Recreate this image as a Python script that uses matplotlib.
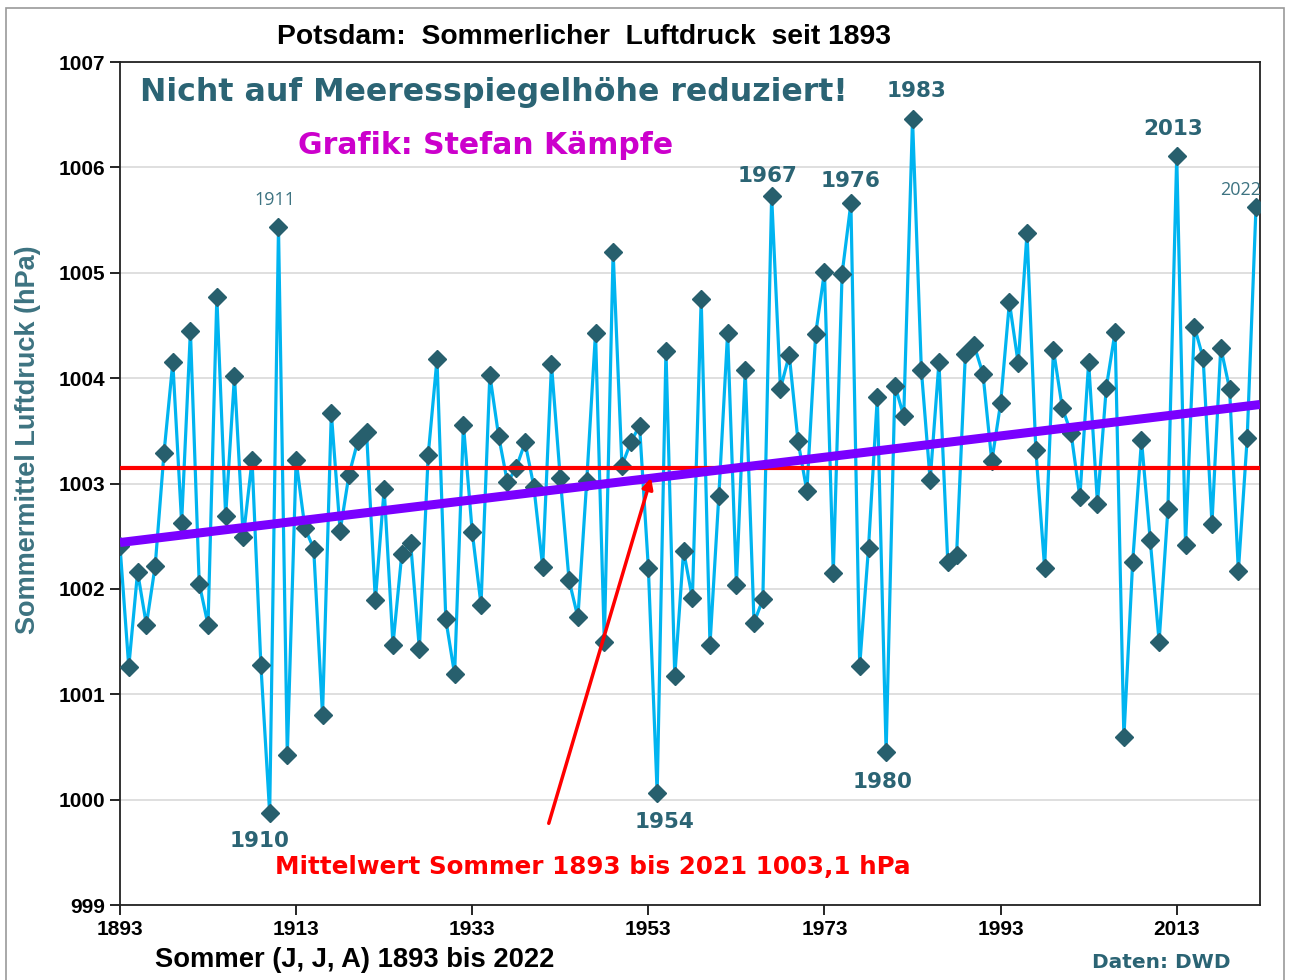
import numpy as np
import matplotlib.pyplot as plt
from matplotlib.patches import Rectangle

plt.rcParams['font.family'] = ['Liberation Sans', 'DejaVu Sans']

# Sommermittel Luftdruck Potsdam (hPa), 1893-2022
years = np.arange(1893, 2023)
pressure = [
    1002.41, 1001.26, 1002.16, 1001.66, 1002.22, 1003.29, 1004.15, 1002.63, 1004.45, 1002.05,
    1001.66, 1004.77, 1002.69, 1004.02, 1002.49, 1003.22, 1001.28, 999.87, 1005.43, 1000.42,
    1003.22, 1002.58, 1002.38, 1000.80, 1003.67, 1002.55, 1003.08, 1003.40, 1003.49, 1001.89,
    1002.95, 1001.47, 1002.33, 1002.44, 1001.43, 1003.27, 1004.18, 1001.71, 1001.19, 1003.56,
    1002.54, 1001.85, 1004.03, 1003.45, 1003.01, 1003.15, 1003.39, 1002.97, 1002.21, 1004.13,
    1003.05, 1002.08, 1001.73, 1003.02, 1004.43, 1001.50, 1005.20, 1003.17, 1003.39, 1003.55,
    1002.20, 1000.06, 1004.26, 1001.17, 1002.36, 1001.91, 1004.75, 1001.47, 1002.88, 1004.43,
    1002.04, 1004.08, 1001.68, 1001.90, 1005.73, 1003.90, 1004.22, 1003.40, 1002.93, 1004.42,
    1005.01, 1002.15, 1004.99, 1005.66, 1001.27, 1002.39, 1003.82, 1000.45, 1003.93, 1003.64,
    1006.46, 1004.08, 1003.03, 1004.15, 1002.26, 1002.32, 1004.23, 1004.31, 1004.04, 1003.21,
    1003.76, 1004.72, 1004.14, 1005.38, 1003.32, 1002.20, 1004.27, 1003.72, 1003.48, 1002.87,
    1004.15, 1002.81, 1003.91, 1004.44, 1000.59, 1002.26, 1003.41, 1002.46, 1001.50, 1002.76,
    1006.11, 1002.42, 1004.49, 1004.19, 1002.62, 1004.29, 1003.90, 1002.17, 1003.43, 1005.62,
]
pressure = np.array(pressure)

mean_value = 1003.15
# Trendlinie (Anfang und Ende)
trend_years = [1893, 2022.45]
trend_values = [1002.44, 1003.75]

# Beschriftete Jahre mit Versatz in Pixeln (dx, dy)
bold_labels = {1967: (-4, 20), 1976: (0, 22), 1983: (4, 28), 2013: (-4, 27),
               1910: (-10, -28), 1954: (7, -29), 1980: (-4, -30)}
small_labels = {1911: (-4, 27), 2022: (-15, 17)}

teal = '#2b6474'
heavy = ['DejaVu Sans']
fig = plt.figure(figsize=(12.9, 9.8), dpi=100)
ax = fig.add_axes([0.093, 0.0765, 0.8837, 0.8602])

ax.plot(years, pressure, color='#00b4f0', lw=2.3, zorder=3)
ax.plot(years, pressure, 'D', color='#275f6d', ms=9, zorder=4)
ax.axhline(mean_value, color='#ff0000', lw=3, zorder=5)
ax.plot(trend_years, trend_values, color='#7a00ff', lw=6.5, zorder=6, solid_capstyle='butt')

ax.set_xlim(1893, 2022.45)
ax.set_ylim(999, 1007)
ax.set_xticks(np.arange(1893, 2023, 20))
ax.set_yticks(np.arange(999, 1008, 1))
ax.tick_params(labelsize=15, length=7, width=1.2, direction='out')
for lab in ax.get_xticklabels() + ax.get_yticklabels():
    lab.set_fontweight('bold')
ax.yaxis.grid(True, color='#d9d9d9', lw=1.2)
ax.set_axisbelow(True)
for sp in ax.spines.values():
    sp.set_linewidth(1.3)
    sp.set_color('#222222')

ax.set_ylabel('Sommermittel Luftdruck (hPa)', fontsize=19.5, fontweight='bold', color='#3d7381')
ax.yaxis.set_label_coords(-0.069, 0.552)

vals = dict(zip(years, pressure))
for y, (dx, dy) in bold_labels.items():
    ax.annotate(str(y), (y, vals[y]), xytext=(dx, dy), textcoords='offset pixels',
                ha='center', va='center', fontsize=15.5, fontweight='bold', color=teal,
                family=heavy)
for y, (dx, dy) in small_labels.items():
    ax.annotate(str(y), (y, vals[y]), xytext=(dx, dy), textcoords='offset pixels',
                ha='center', va='center', fontsize=13, color='#3d7381',
                family=['Open Sans', 'DejaVu Sans'])

ax.annotate('', xy=(1953.4, 1003.08), xytext=(1941.6, 999.75),
            arrowprops=dict(arrowstyle='-|>', color='#ff0000', lw=2.5, mutation_scale=16), zorder=7)

fig.text(140 / 1290, 1 - 92 / 980, 'Nicht auf Meeresspiegelhöhe reduziert!', fontsize=22.8,
         fontweight='bold', color=teal, va='center', family=heavy)
fig.text(298 / 1290, 1 - 146 / 980, 'Grafik: Stefan Kämpfe', fontsize=21.5, fontweight='bold',
         color='#cc00cc', va='center', family=heavy)
fig.text(275 / 1290, 1 - 867 / 980, 'Mittelwert Sommer 1893 bis 2021 1003,1 hPa', fontsize=17.7,
         fontweight='bold', color='#ff0000', va='center', family=heavy)
fig.text(584 / 1290, 1 - 37 / 980, 'Potsdam:  Sommerlicher  Luftdruck  seit 1893', fontsize=20.3,
         fontweight='bold', ha='center', va='center')
fig.text(155 / 1290, 1 - 960 / 980, 'Sommer (J, J, A) 1893 bis 2022', fontsize=19.7,
         fontweight='bold', va='center')
fig.text(1230 / 1290, 1 - 962 / 980, 'Daten: DWD', fontsize=14.5, fontweight='bold', color=teal,
         ha='right', va='center', family=heavy)

fig.patches.append(Rectangle((0.005, -0.01), 0.99, 1.002, transform=fig.transFigure,
                             fill=False, edgecolor='#999999', lw=1.2))

fig.savefig('out.png', dpi=100)
